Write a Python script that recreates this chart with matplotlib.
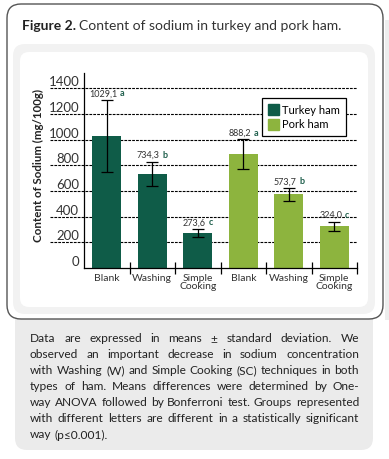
import numpy as np
import matplotlib
matplotlib.use('Agg')
import matplotlib.pyplot as plt
from matplotlib.patches import FancyBboxPatch, Rectangle
from matplotlib.transforms import IdentityTransform, ScaledTranslation
from matplotlib.offsetbox import TextArea, HPacker, AnnotationBbox

plt.rcParams['font.family'] = ['Lato', 'DejaVu Sans']

# data
categories = ['Blank', 'Washing', 'Simple\nCooking', 'Blank', 'Washing', 'Simple\nCooking']
groups = ['Turkey ham', 'Turkey ham', 'Turkey ham', 'Pork ham', 'Pork ham', 'Pork ham']
sodium = [1029.1, 734.3, 273.6, 888.2, 573.7, 324.0]
value_labels = ['1029,1', '734,3', '273,6', '888,2', '573,7', '324,0']
sd = [280, 95, 30, 115, 50, 36]
letters = ['a', 'b', 'c', 'a', 'b', 'c']
yticks = [0, 200, 400, 600, 800, 1000, 1200, 1400]

colors = {'Turkey ham': '#0f5c48', 'Pork ham': '#8db43e'}
letter_color = '#1f5f4c'

caption = [
    "Data are expressed in means ± standard deviation. We",
    "observed an important decrease in sodium concentration",
    "with Washing (W) and Simple Cooking (SC) techniques in both",
    "types of ham. Means differences were determined by One-",
    "way ANOVA followed by Bonferroni test. Groups represented",
    "with different letters are different in a statistically significant",
    "way (p≤0.001).",
]

W, H = 389, 459
fig = plt.figure(figsize=(W / 100, H / 100), dpi=100)
fig.patch.set_facecolor('white')


def px_box(x0, y0, x1, y1, r, **kw):
    # box in pixel coords, y measured from the top
    p = FancyBboxPatch((x0, H - y1), x1 - x0, y1 - y0,
                       boxstyle=f'round,pad=0,rounding_size={r}',
                       transform=IdentityTransform(), zorder=-5, **kw)
    fig.add_artist(p)
    return p


# page decoration
fig.add_artist(Rectangle((385, H - 320), 4, 300, transform=IdentityTransform(),
                         facecolor='#ededed', edgecolor='none', zorder=-6))
px_box(15, 290, 373, 450, 12, facecolor='#ebebeb', edgecolor='none')
px_box(7, 4, 383, 319, 14, facecolor='white', edgecolor='#555555', linewidth=1)
px_box(13, 44, 375, 314, 12, facecolor='#f2f2f2', edgecolor='none')
px_box(20, 52, 368, 307, 9, facecolor='white', edgecolor='none')

# chart
ax = fig.add_axes([84 / W, (H - 268) / H, (357 - 84) / W, (268 - 73) / H])
ax.patch.set_visible(False)
x = np.arange(len(sodium))
bar_colors = [colors[g] for g in groups]
ax.bar(x, sodium, width=0.63, color=bar_colors, zorder=2,
       yerr=sd, capsize=4.5,
       error_kw=dict(elinewidth=0.9, capthick=0.9, ecolor='black', zorder=3))
ax.set_xlim(-0.5, 5.5)
ax.set_ylim(0, 1520)

ax.hlines(yticks[1:], -0.125, 1, transform=ax.get_yaxis_transform(),
          colors='black', linestyles=(0, (2.5, 1)), linewidth=0.8,
          clip_on=False, zorder=1)

for s in ['top', 'right']:
    ax.spines[s].set_visible(False)
for s in ['left', 'bottom']:
    ax.spines[s].set_linewidth(0.9)

ax.set_yticks(yticks)
ax.tick_params(axis='y', length=0, pad=3.5, labelsize=9.5, labelcolor='#333333')
for lab in ax.get_yticklabels():
    lab.set_transform(lab.get_transform() + ScaledTranslation(0, 7 / 100, fig.dpi_scale_trans))

ax.set_xticks(x, categories)
ax.tick_params(axis='x', which='major', length=0, pad=4, labelsize=7.5, labelcolor='#333333')
for lab in ax.get_xticklabels():
    lab.set_linespacing(0.95)
ax.set_xticks(list(x[:-1] + 0.5) + [5.5], minor=True)
ax.tick_params(axis='x', which='minor', direction='inout', length=8, width=0.9)

# value labels
for xi, v, e, txt, let in zip(x, sodium, sd, value_labels, letters):
    box = HPacker(children=[TextArea(txt, textprops=dict(fontsize=6.5, color='#333333')),
                            TextArea(let, textprops=dict(fontsize=6.5, color=letter_color,
                                                         fontweight='bold'))],
                  pad=0, sep=2, align='baseline')
    ab = AnnotationBbox(box, (xi, v + e), xybox=(0, 1.2), xycoords='data',
                        boxcoords='offset points', frameon=False,
                        box_alignment=(0.5, 0), zorder=4)
    ax.add_artist(ab)

handles = [Rectangle((0, 0), 1, 1, color=colors[g]) for g in ['Turkey ham', 'Pork ham']]
leg = ax.legend(handles, ['Turkey ham', 'Pork ham'], loc='upper right',
                bbox_to_anchor=(0.96, 0.872), fancybox=False, framealpha=1,
                edgecolor='black', fontsize=8, handlelength=1.0, handleheight=1.2,
                handletextpad=0.3, borderpad=0.55, labelspacing=0.3, borderaxespad=0)
leg.get_frame().set_linewidth(0.9)
leg.set_zorder(5)

fig.text(38 / W, 1 - 166 / H, 'Content of Sodium (mg/100g)', rotation=90,
         ha='center', va='center', fontsize=8.3, fontweight='bold', color='#222222')

# title
renderer = fig.canvas.get_renderer()
t1 = fig.text(22 / W, 1 - 30 / H, 'Figure 2.', fontsize=10, fontweight='bold',
              color='#222222', va='baseline')
w1 = t1.get_window_extent(renderer).width
fig.text((22 + w1 + 3) / W, 1 - 30 / H, 'Content of sodium in turkey and pork ham.',
         fontsize=10, color='#333333', va='baseline')

# justified caption, font size fitted to the widest line
x0, x1 = 30, 359


def text_width(s, fs):
    t = fig.text(0, 0, s, fontsize=fs)
    w = t.get_window_extent(renderer).width
    t.remove()
    return w


natural = max(text_width(l, 10) for l in caption[:-1])
cap_fs = 10 * (x1 - x0) * 0.985 / natural
space = text_width('a a', cap_fs) - text_width('aa', cap_fs)
for i, line in enumerate(caption):
    y = 339 + i * 16
    words = line.split(' ')
    widths = [text_width(w, cap_fs) for w in words]
    last = i == len(caption) - 1
    gap = space if last else (x1 - x0 - sum(widths)) / (len(words) - 1)
    xp = x0
    for w, wd in zip(words, widths):
        fig.text(xp / W, 1 - y / H, w, fontsize=cap_fs, va='center', color='#222222')
        xp += wd + gap

fig.savefig('out.png', dpi=100)
